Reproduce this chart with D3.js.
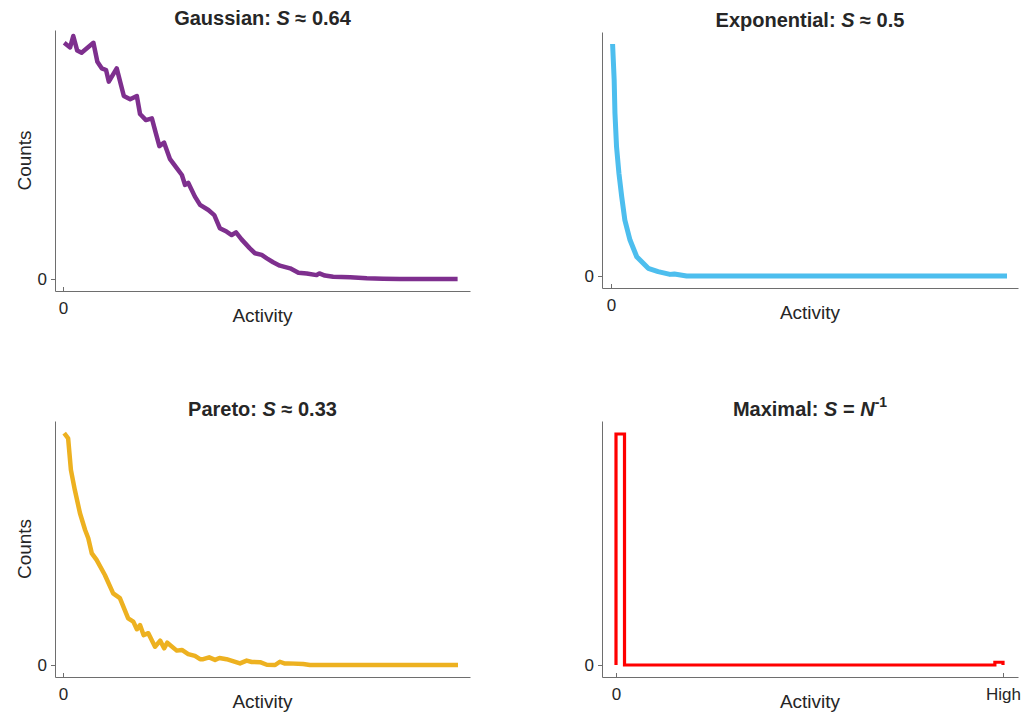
<!DOCTYPE html>
<html>
<head>
<meta charset="utf-8">
<script src="https://cdn.jsdelivr.net/npm/d3@7"></script>
<style>
  body { margin: 0; background: #fff; }
  svg text { font-family: "Helvetica Neue", Helvetica, Arial, "Liberation Sans", sans-serif; fill: #262626; }
</style>
</head>
<body>
<script>
// activity runs 0..1 (0 = first bin, 1 = last bin), counts normalised to the peak
const gaussianActivity = [0.003, 0.018, 0.026, 0.036, 0.047, 0.077, 0.087, 0.098, 0.109, 0.116, 0.136, 0.154, 0.170, 0.187, 0.195, 0.210, 0.225, 0.235, 0.244, 0.256, 0.271, 0.288, 0.301, 0.309, 0.317, 0.334, 0.347, 0.368, 0.383, 0.397, 0.414, 0.427, 0.438, 0.452, 0.473, 0.486, 0.503, 0.516, 0.532, 0.549, 0.575, 0.596, 0.617, 0.642, 0.649, 0.663, 0.684, 0.727, 0.769, 0.810, 0.853, 0.999];
const gaussianCounts   = [0.972, 0.953, 1.000, 0.940, 0.931, 0.972, 0.894, 0.867, 0.860, 0.812, 0.867, 0.753, 0.740, 0.753, 0.679, 0.654, 0.661, 0.600, 0.547, 0.561, 0.493, 0.456, 0.428, 0.387, 0.396, 0.339, 0.305, 0.284, 0.263, 0.209, 0.195, 0.181, 0.192, 0.163, 0.126, 0.106, 0.099, 0.085, 0.069, 0.055, 0.044, 0.026, 0.023, 0.016, 0.023, 0.014, 0.009, 0.007, 0.003, 0.001, 0.000, 0.000];

const exponentialActivity = [0.004, 0.008, 0.010, 0.014, 0.020, 0.027, 0.035, 0.048, 0.065, 0.094, 0.119, 0.149, 0.160, 0.191, 0.271, 0.500, 1.000];
const exponentialCounts   = [1.000, 0.845, 0.701, 0.557, 0.443, 0.342, 0.241, 0.155, 0.083, 0.033, 0.019, 0.007, 0.009, 0.000, 0.000, 0.000, 0.000];

const paretoActivity = [0.003, 0.013, 0.020, 0.030, 0.043, 0.056, 0.064, 0.073, 0.085, 0.106, 0.127, 0.144, 0.165, 0.178, 0.187, 0.195, 0.204, 0.216, 0.233, 0.246, 0.256, 0.264, 0.288, 0.301, 0.317, 0.334, 0.347, 0.355, 0.370, 0.385, 0.396, 0.414, 0.448, 0.465, 0.478, 0.499, 0.516, 0.537, 0.549, 0.562, 0.570, 0.608, 0.625, 0.676, 0.727, 0.811, 1.000];
const paretoCounts   = [0.999, 0.977, 0.841, 0.754, 0.654, 0.582, 0.546, 0.481, 0.453, 0.388, 0.309, 0.288, 0.201, 0.187, 0.154, 0.172, 0.129, 0.137, 0.079, 0.105, 0.072, 0.096, 0.062, 0.065, 0.047, 0.039, 0.025, 0.025, 0.033, 0.022, 0.030, 0.025, 0.007, 0.019, 0.013, 0.012, 0.001, 0.000, 0.014, 0.006, 0.007, 0.004, 0.000, 0.000, 0.000, 0.000, 0.000];

// maximal: bin edges and the count in each bin (stairs)
const maximalEdges  = [0, 0.022, 0.979, 1];
const maximalCounts = [1, 0, 0.012];

const titles = ['Gaussian', 'Exponential', 'Pareto', 'Maximal'];
const sValues = ['≈ 0.64', '≈ 0.5', '≈ 0.33', '='];
const colors = ['#7E2F8E', '#4DBEEE', '#EDB120', '#FF0000'];

const width = 1036, height = 716;

const svg = d3.select('body').append('svg')
    .attr('width', width)
    .attr('height', height);

// box = [left, top, right, bottom] of the axes; x01 / y01 = pixel of value 0 and 1
const panels = [
  { box: [55, 30, 470, 291],   x01: [63, 458],   y01: [279, 36],  xTicks: [0], xLabels: ['0'], ylabel: true,
    sw: 4.5, pts: gaussianActivity.map((a, i) => [a, gaussianCounts[i]]) },
  { box: [602, 32, 1018, 288], x01: [611, 1007], y01: [276, 44],  xTicks: [0], xLabels: ['0'], ylabel: false,
    sw: 5,   pts: exponentialActivity.map((a, i) => [a, exponentialCounts[i]]) },
  { box: [55, 421, 470, 677],  x01: [63, 458],   y01: [665, 433], xTicks: [0], xLabels: ['0'], ylabel: true,
    sw: 4.5, pts: paretoActivity.map((a, i) => [a, paretoCounts[i]]) },
  { box: [602, 421, 1018, 677], x01: [616, 1003], y01: [665, 434], xTicks: [0, 1], xLabels: ['0', 'High'], ylabel: false,
    sw: 3.2, stairs: true }
];

// stairs points for the maximal histogram
const stairPts = [[maximalEdges[0], 0]];
maximalCounts.forEach((c, i) => stairPts.push([maximalEdges[i], c]));
stairPts.push([maximalEdges[maximalEdges.length - 1], maximalCounts[maximalCounts.length - 1]]);
stairPts.push([maximalEdges[maximalEdges.length - 1], 0]);
panels[3].pts = stairPts;

panels.forEach((p, i) => {
  const [l, t, r, b] = p.box;

  // map 0 and 1 to the picture, then widen the domain out to the axes box
  const x = d3.scaleLinear().domain([0, 1]).range(p.x01);
  x.domain([x.invert(l), x.invert(r)]).range([l, r]);
  const y = d3.scaleLinear().domain([0, 1]).range(p.y01);
  y.domain([y.invert(b), y.invert(t)]).range([b, t]);

  const g = svg.append('g');

  const xAxis = g.append('g')
      .attr('transform', `translate(0,${b})`)
      .call(d3.axisBottom(x).tickValues(p.xTicks)
        .tickFormat((d, k) => p.xLabels[k])
        .tickSize(-4).tickSizeOuter(0).tickPadding(11));

  const yAxis = g.append('g')
      .attr('transform', `translate(${l},0)`)
      .call(d3.axisLeft(y).tickValues([0]).tickFormat(() => '0')
        .tickSize(4).tickSizeOuter(0).tickPadding(4));

  [xAxis, yAxis].forEach(a => {
    a.selectAll('path, line').attr('stroke', '#6e6e6e');
    a.selectAll('text').attr('font-size', 17).attr('font-family', null).attr('fill', '#262626');
  });

  const line = d3.line()
      .x(d => x(d[0]))
      .y(d => y(d[1]));
  if (p.stairs) line.curve(d3.curveStepAfter);

  g.append('path')
      .datum(p.pts)
      .attr('fill', 'none')
      .attr('stroke', colors[i])
      .attr('stroke-width', p.sw)
      .attr('stroke-linejoin', p.stairs ? 'miter' : 'round')
      .attr('d', line);

  // title
  const title = g.append('text')
      .attr('x', (l + r) / 2)
      .attr('y', t - 5)
      .attr('text-anchor', 'middle')
      .attr('font-size', 20)
      .attr('font-weight', 'bold');
  title.append('tspan').text(titles[i] + ': ');
  title.append('tspan').attr('font-style', 'italic').text('S');
  title.append('tspan').text(' ' + sValues[i]);
  if (p.stairs) {
    title.append('tspan').text(' ');
    title.append('tspan').attr('font-style', 'italic').text('N');
    title.append('tspan').attr('font-size', 14).attr('dy', -9).text('-1');
  }

  g.append('text')
      .attr('x', (l + r) / 2)
      .attr('y', b + 31)
      .attr('text-anchor', 'middle')
      .attr('font-size', 19)
      .text('Activity');

  if (p.ylabel) {
    g.append('text')
        .attr('transform', `translate(31,${(t + b) / 2}) rotate(-90)`)
        .attr('text-anchor', 'middle')
        .attr('font-size', 19)
        .text('Counts');
  }
});
</script>
</body>
</html>
